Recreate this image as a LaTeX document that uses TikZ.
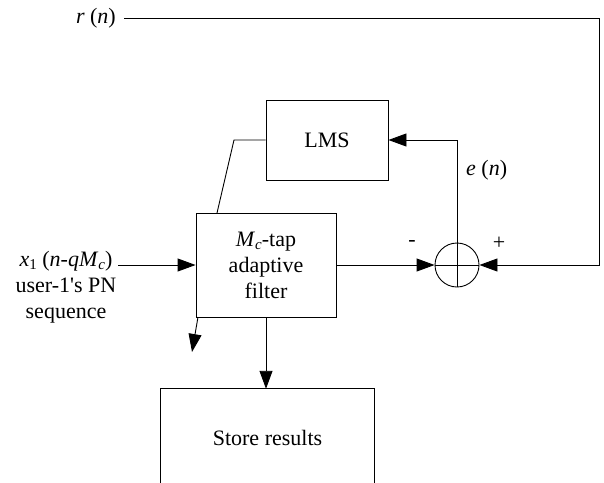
\documentclass[tikz,border=0pt]{standalone}
\usepackage{fontspec}
\setmainfont{Liberation Serif}
\usetikzlibrary{arrows.meta}
\newcommand{\mysub}[1]{\raisebox{-0.35ex}{\fontsize{15}{15}\selectfont #1}}
\begin{document}
\begin{tikzpicture}[x=1pt,y=-1pt,
  every node/.style={font=\fontsize{22}{26}\selectfont},
  blk/.style={draw, line width=0.9pt, inner sep=0pt},
  wire/.style={line width=0.9pt},
  arr/.style={wire, -{Triangle[length=18pt,width=13pt]}},
  lbl/.style={inner sep=0pt}]
\useasboundingbox (0,0) rectangle (604,482);
% blocks
\node[blk, minimum width=122pt, minimum height=80pt] (lms) at (327,140) {LMS};
\node[blk, minimum width=140pt, minimum height=104pt, align=center] (filt) at (266,265)
  {\textit{M}\mysub{\textit{c}}-tap\\adaptive\\filter};
\node[blk, circle, minimum size=44pt] (sum) at (457,265) {};
\node[inner sep=0pt, minimum width=213pt, minimum height=98pt] (store) at (267.5,438) {Store results};
\draw[wire] (store.south west) -- (store.north west) -- (store.north east) -- (store.south east);
% labels
\node[lbl, anchor=east] (rn) at (116,18) {\textit{r} (\textit{n})};
\node[lbl, anchor=west] (en) at (466,170) {\textit{e} (\textit{n})};
\node[lbl, align=center] (inp) at (66,287)
  {\textit{x}\mysub{1} (\textit{n}-\textit{qM}\mysub{\textit{c}})\\user-1\textquotesingle s PN\\sequence};
\node[lbl] (minus) at (412,243) {-};
\node[lbl] (plus) at (499,243) {+};
% coordinates
\coordinate (r0) at (124,18);
\coordinate (rc1) at (599,18);
\coordinate (rc2) at (599,265);
\coordinate (in0) at (118,265);
\coordinate (lk1) at (234,140);
\coordinate (lk2) at (217,213);
\coordinate (d0) at (198,317);
\coordinate (d1) at (192,352);
% connectors
\draw[wire] (sum.west) -- (sum.east);
\draw[arr] (sum.south) -- (sum.south |- lms.east) -- (lms.east);
\draw[arr] (filt.east) -- (sum.west);
\draw[arr] (r0) -- (rc1) -- (rc2) -- (sum.east);
\draw[arr] (in0) -- (filt.west);
\draw[wire] (lms.west) -- (lk1) -- (lk2);
\draw[arr] (d0) -- (d1);
\draw[arr] (filt.south) -- (filt.south |- store.north);
\end{tikzpicture}
\end{document}
